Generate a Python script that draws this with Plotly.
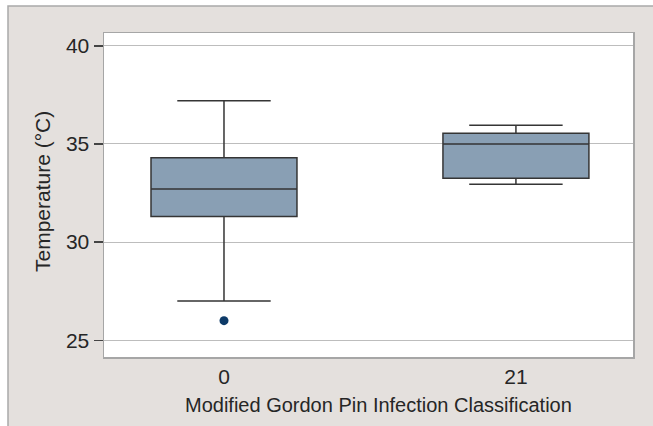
import plotly.graph_objects as go

categories = ["0", "21"]
q1 = [31.3, 33.25]
median = [32.7, 35.0]
q3 = [34.3, 35.55]
lower_whisker = [27.0, 32.95]
upper_whisker = [37.2, 35.95]
outlier_cat = ["0"]
outlier_val = [26.0]

y_ticks = [25, 30, 35, 40]

W, H = 653, 426
ML, MR, MT, MB = 104, 20, 33, 69
PW, PH = W - ML - MR, H - MT - MB


def px_x(sx):
    return (sx - ML) / PW


def px_y(sy):
    return (H - MB - sy) / PH


font_family = "Liberation Sans, Arial, sans-serif"
text_color = "#262626"

fig = go.Figure()
fig.add_trace(go.Box(
    x=categories,
    q1=q1, median=median, q3=q3,
    lowerfence=lower_whisker, upperfence=upper_whisker,
    fillcolor="#899fb4",
    line=dict(color="#353535", width=1.5),
    width=0.5,
    whiskerwidth=0.64,
    boxpoints=False,
    showlegend=False,
    hoverinfo="skip",
))
fig.add_trace(go.Scatter(
    x=outlier_cat, y=outlier_val, mode="markers",
    marker=dict(color="#0d3a68", size=9),
    showlegend=False, hoverinfo="skip",
))

fig.update_layout(
    width=W, height=H,
    margin=dict(l=ML, r=MR, t=MT, b=MB),
    paper_bgcolor="white",
    plot_bgcolor="white",
    font=dict(family=font_family, size=20, color=text_color),
    shapes=[
        dict(type="rect", xref="paper", yref="paper",
             x0=px_x(8), x1=px_x(720), y0=px_y(500), y1=px_y(6),
             fillcolor="#e4e0dd", line=dict(color="#a9a9a9", width=1.5),
             layer="below"),
        dict(type="rect", xref="paper", yref="paper",
             x0=0, x1=1, y0=0, y1=1,
             fillcolor="white", line=dict(width=0),
             layer="below"),
    ],
    annotations=[
        dict(text="Modified Gordon Pin Infection Classification",
             xref="paper", yref="paper", x=px_x(378.5), y=px_y(405),
             xanchor="center", yanchor="middle", showarrow=False,
             font=dict(size=20, color=text_color)),
        dict(text="Temperature (°C)",
             xref="paper", yref="paper", x=px_x(42), y=px_y(192),
             xanchor="center", yanchor="middle", showarrow=False,
             textangle=-90,
             font=dict(size=21, color=text_color)),
    ],
)
fig.update_xaxes(
    type="category",
    categoryorder="array", categoryarray=categories,
    range=[-0.411, 1.401],
    showgrid=False, zeroline=False,
    showline=True, mirror=True, linecolor="#a6a6a6", linewidth=1.5,
    ticks="", tickfont=dict(size=21, color=text_color),
)
fig.update_yaxes(
    range=[24.15, 40.65],
    tickvals=y_ticks,
    showgrid=True, gridcolor="#bdbdbd", gridwidth=1,
    zeroline=False,
    showline=True, mirror=True, linecolor="#a6a6a6", linewidth=1.5,
    ticks="outside", ticklen=9, tickwidth=1.5, tickcolor="#444444",
    tickfont=dict(size=21, color=text_color),
)

fig.write_html(
    "out.html",
    config={"displayModeBar": False, "staticPlot": True},
    post_script="document.body.style.margin='0';document.body.style.overflow='hidden';",
)
